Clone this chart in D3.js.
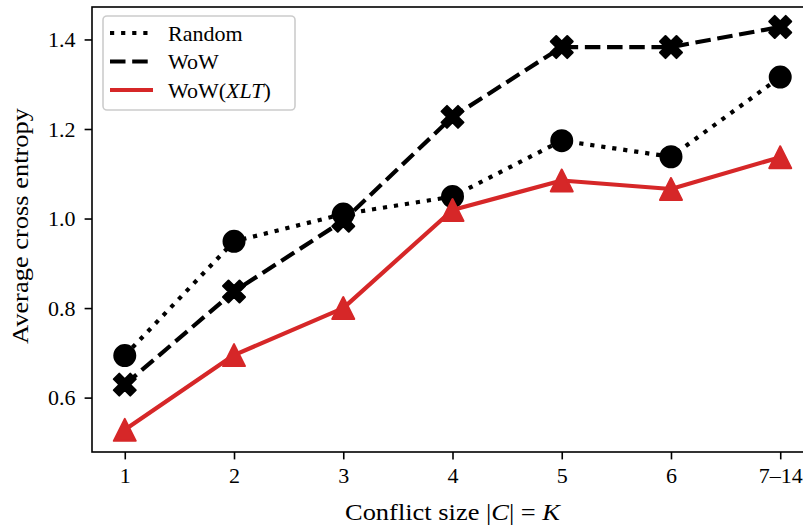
<!DOCTYPE html>
<html>
<head>
<meta charset="utf-8">
<script src="https://cdn.jsdelivr.net/npm/d3@7"></script>
<style>
  body { margin: 0; background: #fff; }
  svg { display: block; }
  text { font-family: "Liberation Serif", "Times New Roman", serif; fill: #000; }
</style>
</head>
<body>
<svg id="chart" width="803" height="529"></svg>
<script>
// Conflict-size buckets along the x axis
const categories = ["1", "2", "3", "4", "5", "6", "7–14"];
// Average cross entropy for each method
const randomValues = [0.694, 0.949, 1.010, 1.049, 1.174, 1.138, 1.316];
const wowValues    = [0.629, 0.837, 0.995, 1.227, 1.383, 1.383, 1.428];
const xltValues    = [0.528, 0.695, 0.800, 1.019, 1.085, 1.066, 1.137];
const yTicks = [0.6, 0.8, 1.0, 1.2, 1.4];
const seriesNames = ["Random", "WoW", "WoW(XLT)"];

const plot = { left: 92, right: 813, top: 7, bottom: 452 };
const RED = "#d62728";
const TICK_FS = 22, LABEL_FS = 23, LEGEND_FS = 22;

const svg = d3.select("#chart");

const x = d3.scalePoint().domain(categories).range([plot.left, plot.right]).padding(0.3);
const y = d3.scaleLinear().domain([0.4785, 1.4725]).range([plot.bottom, plot.top]);

// axes
const xAxis = d3.axisBottom(x).tickSize(7.4).tickPadding(8);
const yAxis = d3.axisLeft(y).tickValues(yTicks).tickFormat(d3.format(".1f")).tickSize(7.4).tickPadding(9);

const gx = svg.append("g").attr("transform", `translate(0,${plot.bottom})`).call(xAxis);
const gy = svg.append("g").attr("transform", `translate(${plot.left},0)`).call(yAxis);
[gx, gy].forEach(g => {
  g.select(".domain").remove();
  g.selectAll(".tick line").attr("stroke", "#000").attr("stroke-width", 1.6);
  g.selectAll(".tick text").attr("font-size", TICK_FS).attr("font-family", "Liberation Serif");
});
gy.selectAll(".tick text").attr("dy", "0.33em");

// frame
svg.append("rect")
  .attr("x", plot.left).attr("y", plot.top)
  .attr("width", plot.right - plot.left).attr("height", plot.bottom - plot.top)
  .attr("fill", "none").attr("stroke", "#000").attr("stroke-width", 1.6);

// axis titles (stretched a little to the width of the original typesetting)
const xl = svg.append("text")
  .attr("x", (plot.left + plot.right) / 2).attr("y", 520)
  .attr("text-anchor", "middle").attr("font-size", LABEL_FS)
  .attr("textLength", 215).attr("lengthAdjust", "spacingAndGlyphs");
xl.append("tspan").text("Conflict size |");
xl.append("tspan").attr("font-style", "italic").text("C");
xl.append("tspan").text("| = ");
xl.append("tspan").attr("font-style", "italic").text("K");

svg.append("text")
  .attr("transform", "translate(28,226) rotate(-90)")
  .attr("text-anchor", "middle").attr("font-size", LABEL_FS)
  .attr("textLength", 236).attr("lengthAdjust", "spacingAndGlyphs")
  .text("Average cross entropy");

// marker shapes
const xPath = (s) => {
  const pts = [[-1,-2],[0,-1],[1,-2],[2,-1],[1,0],[2,1],[1,2],[0,1],[-1,2],[-2,1],[-1,0],[-2,-1]]
    .map(p => [p[0] * s / 4, p[1] * s / 4]);
  return "M" + pts.map(p => p.join(",")).join("L") + "Z";
};
const triPath = (s) => `M0,${-s/2}L${-s/2},${s/2}L${s/2},${s/2}Z`;

const line = d3.line().x((d, i) => x(categories[i])).y(d => y(d));

function drawSeries(values, color, dash, marker) {
  svg.append("path").datum(values)
    .attr("d", line)
    .attr("fill", "none").attr("stroke", color).attr("stroke-width", 4.2)
    .attr("stroke-dasharray", dash).attr("stroke-linejoin", "round");
  const g = svg.append("g");
  values.forEach((v, i) => {
    const cx = x(categories[i]), cy = y(v);
    if (marker === "circle") {
      g.append("circle").attr("cx", cx).attr("cy", cy).attr("r", 10.5)
        .attr("fill", color).attr("stroke", color).attr("stroke-width", 2);
    } else {
      g.append("path").attr("d", marker === "x" ? xPath(22) : triPath(22))
        .attr("transform", `translate(${cx},${cy})`)
        .attr("fill", color).attr("stroke", color).attr("stroke-width", 2)
        .attr("stroke-linejoin", "round");
    }
  });
}

drawSeries(wowValues, "#000", "15.5,6.7", "x");
drawSeries(randomValues, "#000", "4.2,6.9", "circle");
drawSeries(xltValues, RED, null, "tri");

// legend
const lg = svg.append("g");
lg.append("rect").attr("x", 103).attr("y", 16).attr("width", 192).attr("height", 94)
  .attr("rx", 4).attr("fill", "#fff").attr("fill-opacity", 0.8)
  .attr("stroke", "#cccccc").attr("stroke-width", 1.6);
const legendStyles = [
  { color: "#000", dash: "4.2,6.9" },
  { color: "#000", dash: "15.5,6.7" },
  { color: RED, dash: null }
];
seriesNames.forEach((name, i) => {
  const cy = 33 + i * 28.5;
  lg.append("line").attr("x1", 110).attr("x2", 153).attr("y1", cy).attr("y2", cy)
    .attr("stroke", legendStyles[i].color).attr("stroke-width", 4.2)
    .attr("stroke-dasharray", legendStyles[i].dash);
  const t = lg.append("text").attr("x", 168).attr("y", cy).attr("dy", "0.35em").attr("font-size", LEGEND_FS);
  const m = name.match(/^(.*)\((.*)\)$/);
  if (m) {
    t.append("tspan").text(m[1] + "(");
    t.append("tspan").attr("font-style", "italic").text(m[2]);
    t.append("tspan").text(")");
  } else {
    t.text(name);
  }
});
</script>
</body>
</html>
